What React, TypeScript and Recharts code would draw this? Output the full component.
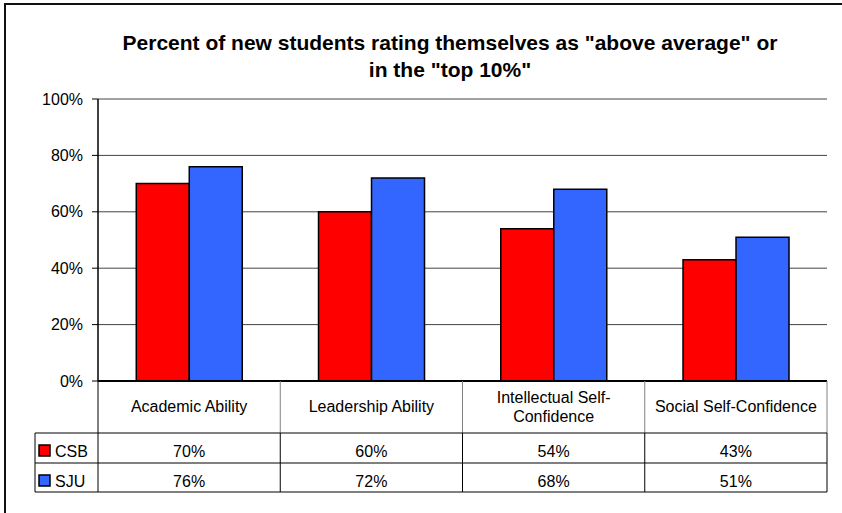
import { Bar, BarChart, CartesianGrid, XAxis, YAxis } from 'recharts';

const categories = [
  'Academic Ability',
  'Leadership Ability',
  'Intellectual Self-Confidence',
  'Social Self-Confidence',
];
const csb = [70, 60, 54, 43];
const sju = [76, 72, 68, 51];
const seriesNames = ['CSB', 'SJU'];
const seriesColors = ['#FF0000', '#3366FF'];
const yTicks = [0, 20, 40, 60, 80, 100];
const titleLines = [
  'Percent of new students rating themselves as "above average" or',
  'in the "top 10%"',
];

const data = categories.map((name, i) => ({ name, CSB: csb[i], SJU: sju[i] }));
const seriesValues = [csb, sju];

const FONT = '"Liberation Sans", Arial, sans-serif';

// split a label on spaces / hyphens so it fits a table cell
const wrap = (text: string, maxChars: number) => {
  const parts = text.match(/[^\s-]+-?\s*/g) ?? [text];
  const lines: string[] = [];
  let cur = '';
  for (const p of parts) {
    if (cur && (cur + p).trim().length > maxChars) {
      lines.push(cur.trim());
      cur = p;
    } else cur += p;
  }
  if (cur) lines.push(cur.trim());
  return lines;
};

// draws the category cell and the value cells under it (Excel data table)
const TableTick = (props: any) => {
  const { x, y, payload, width, visibleTicksCount } = props;
  const i = payload.index;
  const half = payload.offset || width / (2 * visibleTicksCount);
  const L = x - half;
  const R = x + half;
  const y1 = y + 52;
  const y2 = y1 + 30;
  const y3 = y2 + 29;
  const lines = wrap(String(payload.value), 22);
  const lh = 19;
  const base = y + 31 - ((lines.length - 1) * lh) / 2;
  const legendLeft = L - 63;

  return (
    <g fontFamily={FONT} fontSize={16} fill="#000">
      <line x1={R} x2={R} y1={y} y2={y1} stroke="#808080" />
      <line x1={R} x2={R} y1={y1} y2={y3} stroke="#000" />
      {i === 0 && <line x1={L} x2={L} y1={y} y2={y3} stroke="#000" />}
      {[y1, y2, y3].map((yy) => (
        <line key={yy} x1={i === 0 ? legendLeft : L} x2={R} y1={yy} y2={yy} stroke="#000" />
      ))}
      {i === 0 && <line x1={legendLeft} x2={legendLeft} y1={y1} y2={y3} stroke="#000" />}
      {lines.map((t, k) => (
        <text key={k} x={x} y={base + k * lh} textAnchor="middle">
          {t}
        </text>
      ))}
      {seriesValues.map((vals, s) => (
        <text key={s} x={x} y={(s === 0 ? y1 : y2) + 24} textAnchor="middle">
          {vals[i]}%
        </text>
      ))}
      {i === 0 &&
        seriesNames.map((n, s) => (
          <g key={n}>
            <rect
              x={legendLeft + 4}
              y={(s === 0 ? y1 : y2) + 12}
              width={11}
              height={11}
              fill={seriesColors[s]}
              stroke="#000"
              strokeWidth={1.5}
            />
            <text x={legendLeft + 20} y={(s === 0 ? y1 : y2) + 24}>
              {n}
            </text>
          </g>
        ))}
    </g>
  );
};

export default function App() {
  return (
    <div
      style={{
        position: 'absolute',
        left: 0,
        top: 0,
        width: 842,
        height: 513,
        overflow: 'hidden',
        background: '#fff',
      }}
    >
      <div
        style={{
          position: 'absolute',
          left: 4,
          top: 3,
          width: 1000,
          height: 1000,
          borderLeft: '2px solid #111',
          borderTop: '2px solid #111',
        }}
      />
      <div
        style={{
          position: 'absolute',
          left: 0,
          top: 29,
          width: 900,
          textAlign: 'center',
          fontFamily: FONT,
          fontWeight: 'bold',
          fontSize: 21,
          lineHeight: '27px',
          whiteSpace: 'nowrap',
          color: '#000',
        }}
      >
        {titleLines.map((t) => (
          <div key={t}>{t}</div>
        ))}
      </div>
      <div style={{ position: 'absolute', left: 0, top: 0 }}>
        <BarChart
          width={842}
          height={513}
          data={data}
          margin={{ top: 99, right: 15, bottom: 20, left: 38 }}
          barCategoryGap="21%"
          barGap={0}
        >
          <CartesianGrid vertical={false} stroke="#444" strokeWidth={1} />
          <XAxis
            dataKey="name"
            interval={0}
            height={112}
            tickSize={0}
            tickMargin={0}
            tickLine={false}
            axisLine={{ stroke: '#000', strokeWidth: 2 }}
            tick={(p: any) => <TableTick {...p} />}
          />
          <XAxis
            xAxisId="top"
            dataKey="name"
            orientation="top"
            height={0}
            tick={false}
            tickLine={false}
            axisLine={{ stroke: '#999', strokeWidth: 2 }}
          />
          <YAxis
            domain={[0, 100]}
            ticks={yTicks}
            width={60}
            tickSize={6}
            tickMargin={9}
            tickFormatter={(v: number) => `${v}%`}
            tick={{ fill: '#000', fontSize: 16, fontFamily: FONT }}
            tickLine={{ stroke: '#000' }}
            axisLine={{ stroke: '#000', strokeWidth: 1.5 }}
          />
          <YAxis
            yAxisId="right"
            orientation="right"
            domain={[0, 100]}
            width={0}
            tick={false}
            tickLine={false}
            axisLine={{ stroke: '#999', strokeWidth: 2 }}
          />
          {seriesNames.map((n, s) => (
            <Bar
              key={n}
              dataKey={n}
              fill={seriesColors[s]}
              stroke="#000"
              strokeWidth={1.5}
              isAnimationActive={false}
            />
          ))}
        </BarChart>
      </div>
    </div>
  );
}
